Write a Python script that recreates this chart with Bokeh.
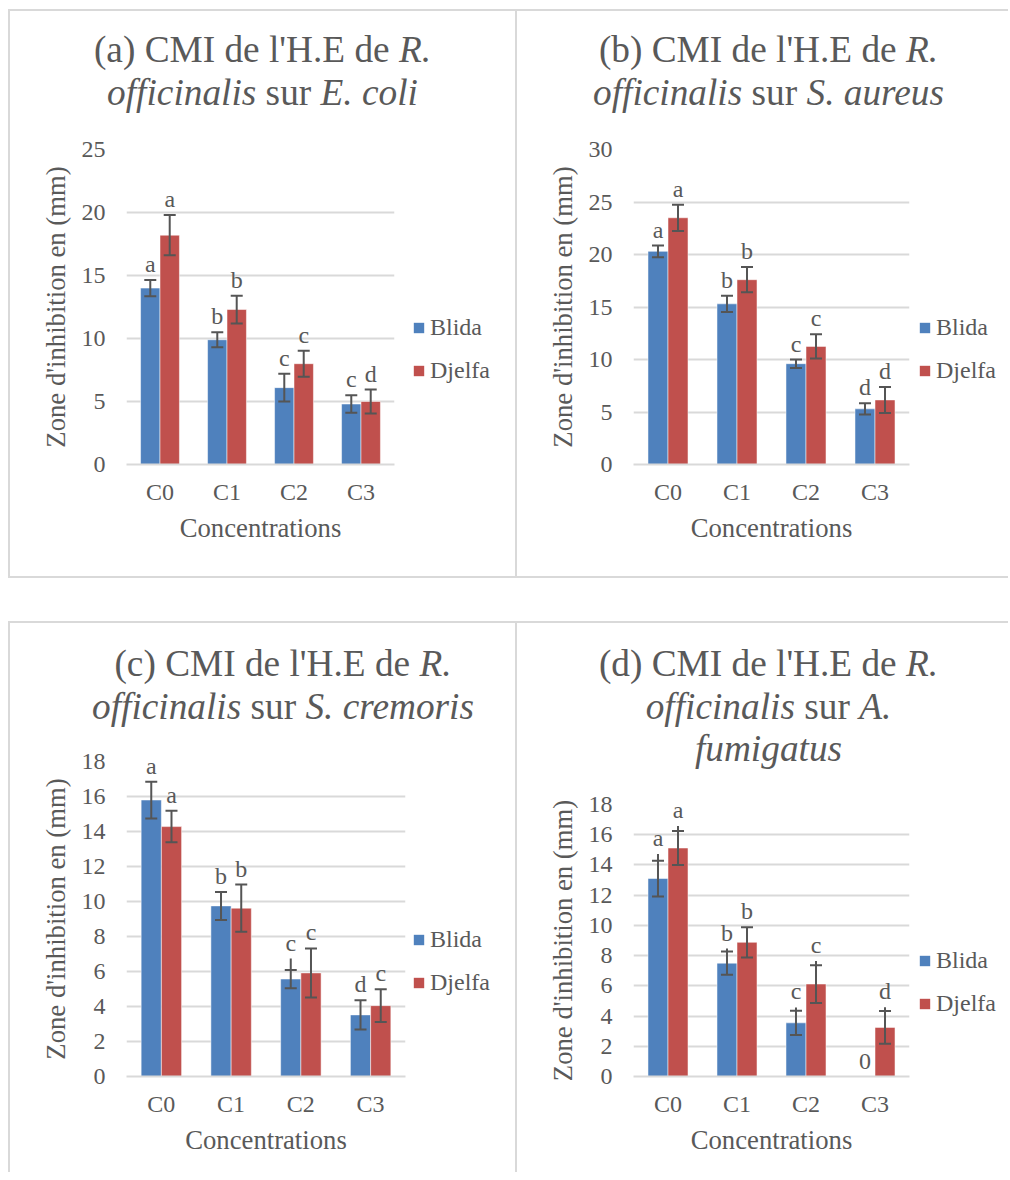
from bokeh.plotting import figure
from bokeh.models import (FactorRange, Range1d, ColumnDataSource, Whisker, LabelSet,
                          Legend, LegendItem, FixedTicker, Div, Spacer, TeeHead)
from bokeh.layouts import row, column
from bokeh.transform import dodge
from bokeh.core.properties import value
from bokeh.embed import file_html
from bokeh.resources import INLINE

# ---------------- data ----------------
categories = ["C0", "C1", "C2", "C3"]
series_names = ["Blida", "Djelfa"]

# (a) E. coli
a_blida = [14.0, 9.9, 6.1, 4.8]
a_blida_err = [0.65, 0.6, 1.1, 0.7]
a_blida_ext = [0, 0, 0, 0]
a_djelfa = [18.2, 12.3, 8.0, 5.0]
a_djelfa_err = [1.6, 1.1, 1.03, 0.95]
a_djelfa_ext = [0, 0, 0, 0]
a_blida_letters = ["a", "b", "c", "c"]
a_djelfa_letters = ["a", "b", "c", "d"]
a_yticks = [0, 5, 10, 15, 20, 25]

# (b) S. aureus
b_blida = [20.3, 15.3, 9.6, 5.3]
b_blida_err = [0.55, 0.77, 0.4, 0.54]
b_blida_ext = [0, 0, 0, 0]
b_djelfa = [23.5, 17.6, 11.25, 6.15]
b_djelfa_err = [1.25, 1.2, 1.15, 1.24]
b_djelfa_ext = [0, 0, 0, 0]
b_blida_letters = ["a", "b", "c", "d"]
b_djelfa_letters = ["a", "b", "c", "d"]
b_yticks = [0, 5, 10, 15, 20, 25, 30]

# (c) S. cremoris
c_blida = [15.8, 9.75, 5.57, 3.52]
c_blida_err = [1.05, 0.8, 0.52, 0.84]
c_blida_ext = [0, 0, 0.65, 0]
c_djelfa = [14.28, 9.62, 5.92, 4.05]
c_djelfa_err = [0.9, 1.35, 1.4, 0.93]
c_djelfa_ext = [0, 0, 0, 0]
c_blida_letters = ["a", "b", "c", "d"]
c_djelfa_letters = ["a", "b", "c", "c"]
c_yticks = [0, 2, 4, 6, 8, 10, 12, 14, 16, 18]

# (d) A. fumigatus
d_blida = [13.1, 7.5, 3.55, 0]
d_blida_err = [1.18, 0.77, 0.8, 0]
d_blida_ext = [0.45, 0.2, 0.22, 0]
d_djelfa = [15.12, 8.88, 6.12, 3.25]
d_djelfa_err = [1.12, 1.0, 1.25, 1.08]
d_djelfa_ext = [0.33, 0, 0.27, 0.26]
d_blida_letters = ["a", "b", "c", "0"]
d_djelfa_letters = ["a", "b", "c", "d"]
d_yticks = [0, 2, 4, 6, 8, 10, 12, 14, 16, 18]

titles = [
    "(a) CMI de l'H.E de <i>R.</i><br><i>officinalis</i> sur <i>E. coli</i>",
    "(b) CMI de l'H.E de <i>R.</i><br><i>officinalis</i> sur <i>S. aureus</i>",
    "(c) CMI de l'H.E de <i>R.</i><br><i>officinalis</i> sur <i>S. cremoris</i>",
    "(d) CMI de l'H.E de <i>R.</i><br><i>officinalis</i> sur <i>A.</i><br><i>fumigatus</i>",
]
x_title = "Concentrations"
y_title = "Zone d'inhibition en (mm)"

# ---------------- style ----------------
FONT = "Liberation Serif"
TEXT = "#595959"
GRID = "#d9d9d9"
BLUE = "#4f81bd"
RED = "#c0504d"
ERR = "#555555"
BAR_W = 0.29
COLORS = [BLUE, RED]


def make_chart(h, frame_left, frame_w, frame_top, frame_h, yticks,
               blida, blida_err, blida_ext, djelfa, djelfa_err, djelfa_ext,
               lab_b, lab_d):
    ymax = yticks[-1]
    w = frame_left + frame_w + 2
    p = figure(width=w, height=h, x_range=FactorRange(*categories),
               y_range=Range1d(0, ymax), output_backend="svg",
               toolbar_location=None, tools="",
               min_border_left=frame_left, min_border_right=2,
               min_border_top=frame_top,
               min_border_bottom=h - frame_top - frame_h)
    p.outline_line_color = None
    p.background_fill_color = "white"
    p.border_fill_color = "white"

    for off, vals, errs, exts, labs, color in (
            (-BAR_W / 2, blida, blida_err, blida_ext, lab_b, BLUE),
            (BAR_W / 2, djelfa, djelfa_err, djelfa_ext, lab_d, RED)):
        src = ColumnDataSource(dict(cat=categories, top=vals))
        p.vbar(x=dodge("cat", off, range=p.x_range), top="top", width=BAR_W,
               source=src, fill_color=color, line_color="white",
               line_alpha=0.5, line_width=1)

        idx = [i for i in range(len(categories)) if errs[i] > 0]
        wsrc = ColumnDataSource(dict(
            cat=[categories[i] for i in idx],
            lower=[vals[i] - errs[i] for i in idx],
            upper=[vals[i] + errs[i] for i in idx]))
        wh = Whisker(base=dodge("cat", off, range=p.x_range), lower="lower",
                     upper="upper", source=wsrc, line_color=ERR, line_width=2,
                     upper_head=TeeHead(size=12, line_color=ERR, line_width=2),
                     lower_head=TeeHead(size=12, line_color=ERR, line_width=2),
                     level="annotation")
        p.add_layout(wh)

        eidx = [i for i in range(len(categories)) if exts[i] > 0]
        if eidx:
            esrc = ColumnDataSource(dict(
                cat=[categories[i] for i in eidx],
                y0=[vals[i] + errs[i] for i in eidx],
                y1=[vals[i] + errs[i] + exts[i] for i in eidx]))
            p.segment(x0=dodge("cat", off, range=p.x_range), y0="y0",
                      x1=dodge("cat", off, range=p.x_range), y1="y1",
                      source=esrc, line_color=ERR, line_width=2)

        lsrc = ColumnDataSource(dict(
            cat=categories,
            ly=[vals[i] + errs[i] + exts[i] for i in range(len(categories))],
            lab=labs))
        ls = LabelSet(x=dodge("cat", off, range=p.x_range), y="ly", text="lab",
                      source=lsrc, text_align="center", text_baseline="alphabetic",
                      y_offset=8, text_font=value(FONT), text_font_size="24px",
                      text_color=TEXT)
        p.add_layout(ls)

    p.yaxis.ticker = FixedTicker(ticks=yticks)
    p.xaxis.axis_label = x_title
    p.yaxis.axis_label = y_title
    for ax in (p.xaxis[0], p.yaxis[0]):
        ax.axis_label_text_font = FONT
        ax.axis_label_text_font_size = "26.7px"
        ax.axis_label_text_font_style = "normal"
        ax.axis_label_text_color = TEXT
        ax.major_label_text_font = FONT
        ax.major_label_text_font_size = "24px"
        ax.major_label_text_color = TEXT
        ax.major_tick_line_color = None
        ax.minor_tick_line_color = None
        ax.major_tick_out = 0
        ax.major_tick_in = 0
    p.yaxis.axis_line_color = None
    p.xaxis.axis_line_color = GRID
    p.xaxis.axis_line_width = 2
    p.yaxis.major_label_standoff = 21
    p.xaxis.major_label_standoff = 14
    p.yaxis.axis_label_standoff = 8
    p.xaxis.axis_label_standoff = 5
    p.xgrid.grid_line_color = None
    p.ygrid.grid_line_color = GRID
    p.ygrid.grid_line_width = 2
    return p


def make_legend(w, h, loc):
    lf = figure(width=w, height=h, x_range=Range1d(0, 1), y_range=Range1d(0, 1),
                x_axis_type=None, y_axis_type=None, min_border=0,
                toolbar_location=None, tools="", output_backend="svg")
    lf.outline_line_color = None
    items = []
    for name, color in zip(series_names, COLORS):
        # swatch renderer: its single bar lies outside the visible range
        r = lf.vbar(x=[5], top=[1], width=0.1, fill_color=color, line_color=None)
        items.append(LegendItem(label=name, renderers=[r]))
    legend = Legend(items=items, location=loc, orientation="vertical",
                    border_line_color=None, background_fill_alpha=0,
                    padding=0, margin=0, spacing=16,
                    glyph_width=13, glyph_height=13, label_standoff=5,
                    label_text_font=FONT, label_text_font_size="24px",
                    label_text_color=TEXT)
    lf.add_layout(legend)
    return lf


def title_div(html, w, h, pad_top, pad_left):
    style = ("font-family:'Liberation Serif';font-size:37.3px;line-height:42.5px;"
             "color:%s;text-align:center;white-space:nowrap;padding-top:%dpx;"
             "padding-left:%dpx;margin:0;width:%dpx;box-sizing:border-box;"
             % (TEXT, pad_top, pad_left, w))
    return Div(text='<div style="%s">%s</div>' % (style, html), width=w, height=h,
               margin=(0, 0, 0, 0))


def vline(h):
    return Spacer(width=2, height=h, styles={"background-color": GRID})


def hline(w):
    return Spacer(width=w, height=2, styles={"background-color": GRID})


LEFT, TOP = 8, 9
WA, WB = 505, 491
H1, H2 = 565, 549


def panel(title_html, w, t_h, t_pad_top, t_pad_left, chart, leg_loc):
    leg = make_legend(w - chart.width, chart.height, leg_loc)
    return column(title_div(title_html, w, t_h, t_pad_top, t_pad_left), row(chart, leg))


pa = make_chart(H1 - 110, 116, 268, 28, 315, a_yticks,
                a_blida, a_blida_err, a_blida_ext, a_djelfa, a_djelfa_err, a_djelfa_ext,
                a_blida_letters, a_djelfa_letters)
pb = make_chart(H1 - 110, 116, 276, 28, 315, b_yticks,
                b_blida, b_blida_err, b_blida_ext, b_djelfa, b_djelfa_err, b_djelfa_ext,
                b_blida_letters, b_djelfa_letters)
pc = make_chart(H2 - 110, 116, 279, 28, 315, c_yticks,
                c_blida, c_blida_err, c_blida_ext, c_djelfa, c_djelfa_err, c_djelfa_ext,
                c_blida_letters, c_djelfa_letters)
pd = make_chart(H2 - 155, 116, 276, 26, 272, d_yticks,
                d_blida, d_blida_err, d_blida_ext, d_djelfa, d_djelfa_err, d_djelfa_ext,
                d_blida_letters, d_djelfa_letters)

panel_a = panel(titles[0], WA, 110, 18, 0, pa, (16, 80))
panel_b = panel(titles[1], WB, 110, 18, 12, pb, (7, 80))
panel_c = panel(titles[2], WA, 110, 20, 41, pc, (5, 80))
panel_d = panel(titles[3], WB, 155, 20, 12, pd, (7, 59))

TOTAL_W = WA + WB + 4

layout = column(
    Spacer(height=TOP),
    row(Spacer(width=LEFT), hline(TOTAL_W)),
    row(Spacer(width=LEFT), vline(H1), panel_a, vline(H1), panel_b),
    row(Spacer(width=LEFT), hline(TOTAL_W)),
    Spacer(height=43),
    row(Spacer(width=LEFT), hline(TOTAL_W)),
    row(Spacer(width=LEFT), vline(H2), panel_c, vline(H2), panel_d),
)

open("out.html", "w").write(file_html(layout, INLINE, title="CMI"))
